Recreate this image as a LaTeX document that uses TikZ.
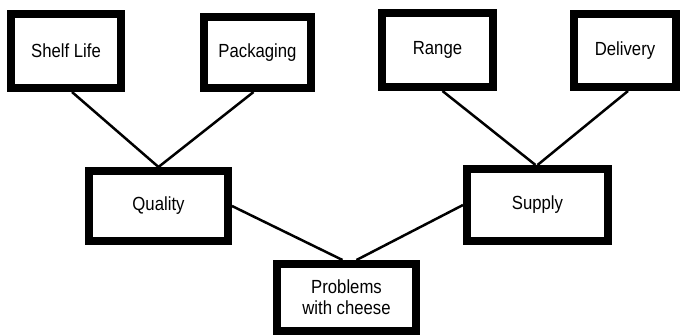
\documentclass[tikz,border=0pt]{standalone}
\usepackage{fontspec}
\newfontfamily\boxfont{Liberation Sans}[FakeStretch=0.88]

\tikzset{
  cause/.style={draw,line width=8pt,inner sep=0pt,align=center,
    font=\boxfont\fontsize{19}{21}\selectfont},
  link/.style={line width=2.5pt}
}

\begin{document}
\begin{tikzpicture}[x=1pt,y=1pt]
  \useasboundingbox (0,0) rectangle (680,335);

  % Top row of causes
  \node[cause,minimum width=110pt,minimum height=74pt] (shelf) at (66,284) {Shelf Life};
  \node[cause,minimum width=107pt,minimum height=71pt] (pack) at (257.5,282.5) {Packaging};
  \node[cause,minimum width=111pt,minimum height=74pt] (range) at (437.5,285) {Range};
  \node[cause,minimum width=102pt,minimum height=73pt] (deliv) at (625,284.5) {Delivery};

  % Middle row
  \node[cause,minimum width=139pt,minimum height=70pt] (quality) at (158.5,129) {Quality};
  \node[cause,minimum width=141pt,minimum height=72pt] (supply) at (537.5,130) {Supply};

  % The problem itself
  \node[cause,minimum width=139pt,minimum height=67pt] (problem) at (346.5,37.5) {Problems\\with cheese};

  % Links
  \draw[link] ([xshift=6pt]shelf.south) -- (quality.north);
  \draw[link] ([xshift=-4pt]pack.south) -- (quality.north);
  \draw[link] ([xshift=5pt]range.south) -- ([xshift=-2pt]supply.north);
  \draw[link] ([xshift=3pt]deliv.south) -- (supply.north);
  \draw[link] (quality.east) -- ([xshift=-4pt]problem.north);
  \draw[link] (supply.west) -- ([xshift=10pt]problem.north);
\end{tikzpicture}
\end{document}
